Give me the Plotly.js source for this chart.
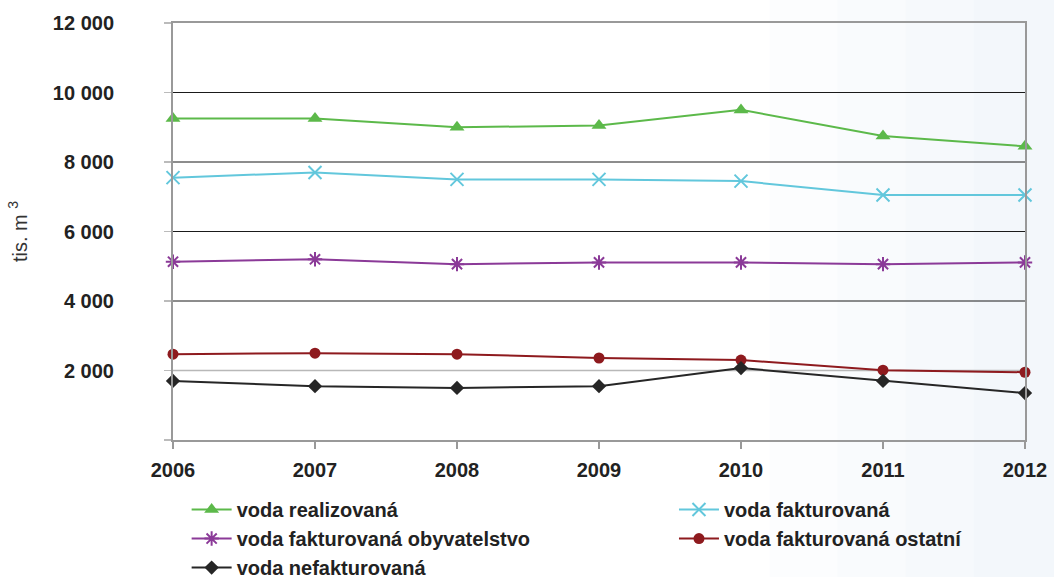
<!DOCTYPE html>
<html>
<head>
<meta charset="utf-8">
<script src="https://cdn.plot.ly/plotly-3.0.1.min.js"></script>
<style>
html,body{margin:0;padding:0;background:#fff;}
#chart{width:1054px;height:577px;}
</style>
</head>
<body>
<div id="chart"></div>
<script>
const years = ['2006','2007','2008','2009','2010','2011','2012'];
const realizovana = [9250, 9250, 9000, 9050, 9500, 8750, 8450];
const fakturovana = [7550, 7700, 7500, 7500, 7450, 7050, 7050];
const obyvatelstvo = [5130, 5200, 5060, 5110, 5110, 5060, 5110];
const ostatni = [2470, 2500, 2470, 2360, 2300, 2010, 1950];
const nefakturovana = [1700, 1550, 1500, 1550, 2070, 1700, 1350];
const yTicks = [0, 2000, 4000, 6000, 8000, 10000, 12000];
const yTickText = ['', '2 000', '4 000', '6 000', '8 000', '10 000', '12 000'];

const FONT = 'Liberation Sans, Arial, sans-serif';

const traces = [
  {name:'voda realizovaná', y:realizovana, color:'#5cb94a', symbol:'triangle-up', size:13, lw:0, lg:'legend'},
  {name:'voda fakturovaná', y:fakturovana, color:'#62c7dc', symbol:'x-thin', size:13, lw:2, lg:'legend2'},
  {name:'voda fakturovaná obyvatelstvo', y:obyvatelstvo, color:'#8b3a98', symbol:'asterisk', size:12, lw:2, lg:'legend'},
  {name:'voda fakturovaná ostatní', y:ostatni, color:'#8e1a1e', symbol:'circle', size:11, lw:0, lg:'legend2'},
  {name:'voda nefakturovaná', y:nefakturovana, color:'#262626', symbol:'diamond', size:11, lw:0, lg:'legend'}
].map(t => ({
  type:'scatter', mode:'lines+markers', x:years, y:t.y, name:t.name, legend:t.lg,
  line:{color:t.color, width:2},
  marker:{symbol:t.symbol, size:t.size, color:t.color, line:{color:t.color, width:t.lw}},
  cliponaxis:false
}));

const shapes = [];
[0.70,0.78,0.86,0.94].forEach(x0 => shapes.push({type:'rect', xref:'paper', yref:'paper', x0:x0, x1:1.05, y0:-0.4, y1:1.1, fillcolor:'rgba(215,230,245,0.07)', line:{width:0}, layer:'below'}));
// horizontal gridlines: grey at the lowest labelled tick, black above
yTicks.forEach((v, i) => {
  if (i === 0 || i === yTicks.length - 1) return;
  shapes.push({type:'line', xref:'paper', yref:'y', x0:0, x1:1, y0:v, y1:v,
    line:{color: i === 1 ? '#b8b8b8' : '#1a1a1a', width: i === 1 ? 1.5 : 1}, layer:'below'});
});

const legendFont = {size:20, family:FONT, weight:'bold', color:'#222'};

const layout = {
  width:1054, height:577,
  margin:{l:173, r:29, t:23, b:137, autoexpand:false},
  paper_bgcolor:'#ffffff', plot_bgcolor:'rgba(0,0,0,0)',
  font:{family:FONT, color:'#222'},
  showlegend:true,
  xaxis:{
    type:'category', range:[0,6], tickvals:years, ticktext:years,
    showgrid:false, zeroline:false,
    showline:true, linecolor:'#999', linewidth:2, mirror:true,
    ticks:'outside', ticklen:7, tickcolor:'#999', tickwidth:1.5,
    ticklabelstandoff:4,
    tickfont:{size:20, family:FONT, weight:'bold', color:'#222'}
  },
  yaxis:{
    range:[0,12000], tickvals:yTicks, ticktext:yTickText,
    showgrid:false, zeroline:false,
    showline:true, linecolor:'#999', linewidth:2, mirror:true,
    ticks:'outside', ticklen:7, tickcolor:'#bbb', tickwidth:1.5,
    ticklabelstandoff:46,
    tickfont:{size:20, family:FONT, weight:'bold', color:'#222'},
    title:{text:'tis. m <sup>3</sup>', standoff:20, font:{size:20, color:'#333', family:FONT}}
  },
  legend:{
    orientation:'v', x:0.016, xanchor:'left', y:-0.12, yanchor:'top',
    bgcolor:'rgba(0,0,0,0)', itemwidth:40, tracegroupgap:0,
    font:legendFont
  },
  legend2:{
    orientation:'v', x:0.588, xanchor:'left', y:-0.12, yanchor:'top',
    bgcolor:'rgba(0,0,0,0)', itemwidth:40, tracegroupgap:0,
    font:legendFont
  },
  shapes:shapes
};

Plotly.newPlot('chart', traces, layout, {displayModeBar:false, staticPlot:true});
</script>
</body>
</html>
